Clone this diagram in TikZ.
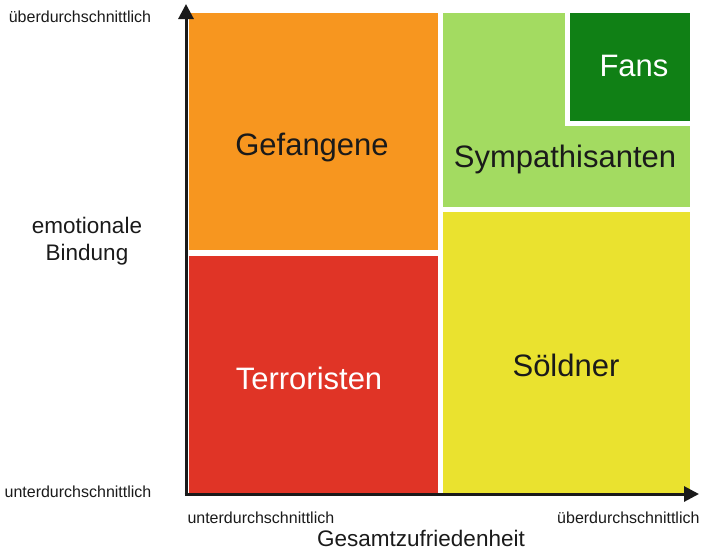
\documentclass[tikz,border=0pt]{standalone}
\usepackage{fontspec}
\setmainfont{Liberation Sans}
\usetikzlibrary{math}
\usetikzlibrary{arrows.meta}

\definecolor{orangefield}{HTML}{F7961F}
\definecolor{redfield}{HTML}{E03426}
\definecolor{lightgreenfield}{HTML}{A3DB61}
\definecolor{darkgreenfield}{HTML}{108015}
\definecolor{yellowfield}{HTML}{EAE22F}
\definecolor{textdark}{HTML}{1A1A1A}

\tikzset{
  fieldlabel/.style={font=\fontsize{31}{36}\selectfont, inner sep=0pt},
  axislabel/.style={font=\fontsize{22.5}{27}\selectfont, text=textdark, inner sep=0pt, align=center},
  ticklabel/.style={font=\fontsize{16}{19}\selectfont, text=textdark, inner sep=0pt},
}

\begin{document}
\begin{tikzpicture}[
  x=1pt, y=-1pt,
  line width=3pt,
  ]

  \tikzmath{
    \xl  = 189; % left edge of the fields
    \xm  = 438; % right edge of left column
    \xr  = 443; % left edge of right column
    \xe  = 690; % right edge of the fields
    \yt  = 13;  % top edge of the fields
    \yb  = 493; % bottom edge of the fields
  }

  \useasboundingbox (0,0) rectangle (702,550);

  % Fields
  \fill[orangefield] (\xl,\yt) rectangle (\xm,250);
  \fill[redfield] (\xl,256) rectangle (\xm,\yb);
  \fill[lightgreenfield] (\xr,\yt) rectangle (\xe,207);
  \fill[white] (565,\yt) rectangle (\xe,126);
  \fill[darkgreenfield] (570,\yt) rectangle (\xe,121);
  \fill[yellowfield] (\xr,212) rectangle (\xe,\yb);

  % Field labels
  \node[fieldlabel, text=textdark] (gefangene) at (312,147) {Gefangene};
  \node[fieldlabel, text=white] (terroristen) at (309,378) {Terroristen};
  \node[fieldlabel, text=textdark] (sympathisanten) at (565,159) {Sympathisanten};
  \node[fieldlabel, text=textdark] (soeldner) at (566,365) {Söldner};
  \node[fieldlabel, text=white] (fans) at (634,66) {Fans};

  % Axes
  \coordinate (O) at (186,494);
  \coordinate (xend) at (699,494);
  \coordinate (yend) at (186,4);
  \draw[textdark, -{Triangle[length=15pt, width=15pt]}] (O) -- (yend);
  \draw[textdark, -{Triangle[length=15pt, width=15pt]}] ([xshift=-1.5pt]O) -- (xend);

  % Axis labels
  \node[axislabel] (ylabel) at (87,241) {emotionale\\Bindung};
  \node[axislabel] (xlabel) at (421,538) {Gesamtzufriedenheit};
  \node[ticklabel] (yhigh) at (80,17) {überdurchschnittlich};
  \node[ticklabel] (ylow) at (78,492) {unterdurchschnittlich};
  \node[ticklabel, anchor=west] (xlow) at (186,518) {unterdurchschnittlich};
  \node[ticklabel, anchor=east] (xhigh) at (701,518) {überdurchschnittlich};

\end{tikzpicture}
\end{document}
